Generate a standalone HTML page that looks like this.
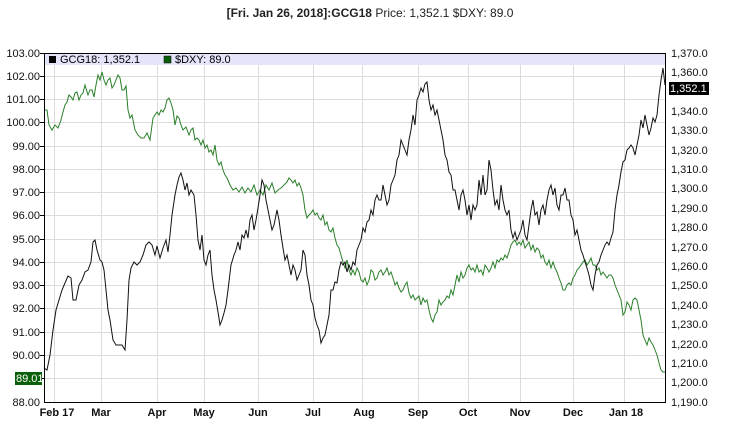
<!DOCTYPE html><html><head><style>body{margin:0;background:#fff}svg{display:block;font-family:"Liberation Sans",sans-serif}</style></head><body>
<svg width="739" height="430" xmlns="http://www.w3.org/2000/svg">
<text x="370" y="17" text-anchor="middle" font-size="12" font-weight="bold" fill="#222">[Fri. Jan 26, 2018]:GCG18 <tspan font-weight="normal">Price: 1,352.1 $DXY: 89.0</tspan></text>
<g stroke="#dcdcdc" stroke-width="1">
<line x1="44" x2="665" y1="76.5" y2="76.5"/><line x1="44" x2="665" y1="99.5" y2="99.5"/><line x1="44" x2="665" y1="122.5" y2="122.5"/><line x1="44" x2="665" y1="146.5" y2="146.5"/><line x1="44" x2="665" y1="169.5" y2="169.5"/><line x1="44" x2="665" y1="192.5" y2="192.5"/><line x1="44" x2="665" y1="215.5" y2="215.5"/><line x1="44" x2="665" y1="239.5" y2="239.5"/><line x1="44" x2="665" y1="262.5" y2="262.5"/><line x1="44" x2="665" y1="285.5" y2="285.5"/><line x1="44" x2="665" y1="308.5" y2="308.5"/><line x1="44" x2="665" y1="332.5" y2="332.5"/><line x1="44" x2="665" y1="355.5" y2="355.5"/><line x1="44" x2="665" y1="378.5" y2="378.5"/>
<line y1="53" y2="402" x1="54.5" x2="54.5"/><line y1="53" y2="402" x1="101.5" x2="101.5"/><line y1="53" y2="402" x1="157.5" x2="157.5"/><line y1="53" y2="402" x1="204.5" x2="204.5"/><line y1="53" y2="402" x1="258.5" x2="258.5"/><line y1="53" y2="402" x1="313.5" x2="313.5"/><line y1="53" y2="402" x1="362.5" x2="362.5"/><line y1="53" y2="402" x1="418.5" x2="418.5"/><line y1="53" y2="402" x1="468.5" x2="468.5"/><line y1="53" y2="402" x1="520.5" x2="520.5"/><line y1="53" y2="402" x1="573.5" x2="573.5"/><line y1="53" y2="402" x1="624.5" x2="624.5"/>
</g>
<rect x="44" y="53" width="621" height="12" fill="#e4e4fa"/>
<rect x="49" y="56" width="7" height="7" fill="#000"/><text x="60" y="63" font-size="11">GCG18: 1,352.1</text>
<rect x="164" y="56" width="7" height="7" fill="#0a5f0a" stroke="#000" stroke-width="0.5"/><text x="175" y="63" font-size="11">$DXY: 89.0</text>
<polyline fill="none" stroke="#2a7f2a" stroke-width="1" points="44,110 47,110 49,125 52,130 55,125 58,128 61,120 63,112 65,105 67,102 69,95 71,97 73,100 75,93 77,92 79,100 81,95 83,93 85,85 88,95 90,90 92,90 94,97 96,85 98,75 100,80 102,72 104,80 106,85 108,80 110,78 112,88 114,85 116,80 118,75 120,78 122,90 124,90 126,86 128,110 130,118 132,115 135,130 138,135 141,138 144,138 147,133 150,140 153,118 155,115 157,112 159,115 161,110 163,112 165,108 167,100 169,98 171,103 173,110 175,125 177,116 179,118 181,125 183,130 186,127 189,135 191,130 193,128 195,140 197,138 199,140 201,145 203,140 205,148 207,145 209,152 211,150 213,155 215,145 217,160 219,165 221,162 223,170 225,175 227,178 230,185 233,190 236,188 239,192 242,187 245,193 248,188 251,192 254,185 257,195 260,190 263,195 266,185 269,190 272,183 275,193 278,190 281,188 284,185 287,182 289,178 291,180 293,183 295,180 297,186 299,183 301,188 303,195 305,210 307,218 309,215 311,213 313,210 315,215 317,213 319,218 321,220 323,215 325,225 327,222 329,230 331,232 333,228 335,238 337,245 339,248 341,255 343,262 345,268 347,260 349,270 351,275 353,270 355,275 357,268 359,272 361,280 363,282 365,278 367,285 369,280 371,270 373,272 375,280 377,278 379,272 381,270 383,275 385,272 387,268 389,275 391,272 393,278 395,285 397,282 399,288 401,292 403,290 405,285 407,282 409,293 411,298 413,295 415,300 417,298 419,296 421,305 423,298 425,302 427,300 429,310 431,318 433,322 435,315 437,312 439,300 441,305 443,302 445,300 447,296 449,298 451,290 453,295 455,285 457,275 459,282 461,272 463,278 465,275 467,268 469,265 471,270 473,268 475,272 477,265 479,272 481,270 483,275 485,265 487,268 489,272 491,268 493,262 495,268 497,260 499,262 501,258 503,260 505,255 507,258 509,252 511,245 513,242 515,240 517,245 519,242 521,245 523,240 525,248 527,245 529,242 531,250 533,245 535,252 537,248 539,250 541,258 543,255 545,262 547,265 549,260 551,268 553,262 555,268 557,272 559,278 561,283 563,290 565,290 567,285 569,283 571,285 573,278 575,275 577,270 579,268 581,265 583,262 585,260 587,265 589,262 591,258 593,265 595,265 597,270 599,268 601,275 603,272 605,275 607,278 609,275 611,275 613,278 615,285 617,290 619,295 621,300 623,315 625,312 627,302 629,305 631,310 633,300 635,298 637,300 639,310 641,320 643,335 645,340 647,345 649,338 651,342 653,345 655,350 657,355 659,363 661,370 663,372 665,372"/>
<polyline fill="none" stroke="#111" stroke-width="1" points="44,368 47,370 50,355 53,330 56,310 59,300 62,290 65,283 68,276 71,278 73,300 76,300 79,285 82,280 85,272 88,270 91,262 93,242 95,240 97,250 100,260 102,262 104,270 106,290 108,310 110,320 113,340 116,345 119,345 122,345 125,350 127,320 129,280 131,268 134,262 137,265 140,262 143,255 146,245 149,242 152,245 155,255 157,246 160,258 163,248 166,240 168,252 170,235 172,215 175,195 177,185 179,177 181,173 183,180 185,190 187,183 189,195 191,190 194,195 196,215 198,240 200,250 202,235 204,260 206,265 208,255 210,250 212,275 214,290 216,300 218,312 220,325 222,320 224,313 226,305 228,290 231,265 234,255 236,250 238,242 240,250 242,235 244,238 246,230 248,238 250,220 252,215 254,230 256,220 258,208 260,195 262,180 264,185 266,200 268,210 270,220 272,230 274,225 277,210 279,220 281,235 283,248 285,260 287,255 289,265 291,275 293,265 295,270 297,280 299,275 301,270 303,250 305,255 307,275 309,285 311,300 313,305 315,318 317,325 319,330 321,343 323,338 325,335 327,325 329,315 331,290 333,290 335,282 337,283 339,270 341,262 343,265 345,262 347,272 349,265 351,270 353,262 355,265 357,250 359,245 361,240 363,228 365,232 367,222 369,220 371,210 373,215 375,200 377,195 379,200 381,200 383,185 385,195 387,205 389,200 391,185 393,180 395,175 397,160 399,155 401,140 403,145 405,150 407,155 409,140 411,130 413,115 415,125 417,100 419,95 421,88 423,92 425,84 427,82 429,100 431,110 433,105 435,115 437,110 439,120 441,130 443,140 445,155 447,160 449,172 451,175 453,190 455,190 457,200 459,210 461,195 463,190 465,200 467,215 469,205 471,220 473,205 475,210 477,205 479,180 481,195 483,175 485,195 487,190 489,160 491,170 493,190 495,205 497,200 499,210 501,185 503,200 505,210 507,215 509,210 511,230 513,238 515,232 517,240 519,235 521,230 523,220 525,235 527,240 529,225 531,210 533,200 535,215 537,212 539,225 541,210 543,205 545,215 547,200 549,190 551,185 553,195 555,188 557,205 559,210 561,195 563,195 565,188 567,200 569,200 571,215 573,220 575,235 577,230 579,240 581,250 583,255 585,262 587,268 589,275 591,285 593,290 595,275 597,265 599,262 601,255 603,250 605,245 607,242 609,245 611,238 613,232 615,210 617,195 619,185 621,172 623,162 625,160 627,150 629,148 631,145 633,148 635,155 637,145 639,135 641,120 643,128 645,115 647,125 649,135 651,128 653,118 655,122 657,115 659,95 661,80 663,68 665,85"/>
<rect x="44.5" y="53.5" width="621" height="349" fill="none" stroke="#000" stroke-width="1"/>
<g stroke="#000"><line x1="40" x2="44" y1="53.5" y2="53.5"/><line x1="40" x2="44" y1="76.5" y2="76.5"/><line x1="40" x2="44" y1="99.5" y2="99.5"/><line x1="40" x2="44" y1="122.5" y2="122.5"/><line x1="40" x2="44" y1="146.5" y2="146.5"/><line x1="40" x2="44" y1="169.5" y2="169.5"/><line x1="40" x2="44" y1="192.5" y2="192.5"/><line x1="40" x2="44" y1="215.5" y2="215.5"/><line x1="40" x2="44" y1="239.5" y2="239.5"/><line x1="40" x2="44" y1="262.5" y2="262.5"/><line x1="40" x2="44" y1="285.5" y2="285.5"/><line x1="40" x2="44" y1="308.5" y2="308.5"/><line x1="40" x2="44" y1="332.5" y2="332.5"/><line x1="40" x2="44" y1="355.5" y2="355.5"/><line x1="40" x2="44" y1="378.5" y2="378.5"/></g>
<g font-size="11" text-anchor="end" fill="#111">
<text x="40" y="57">103.00</text><text x="40" y="80">102.00</text><text x="40" y="103">101.00</text><text x="40" y="126">100.00</text><text x="40" y="150">99.00</text><text x="40" y="173">98.00</text><text x="40" y="196">97.00</text><text x="40" y="219">96.00</text><text x="40" y="243">95.00</text><text x="40" y="266">94.00</text><text x="40" y="289">93.00</text><text x="40" y="312">92.00</text><text x="40" y="336">91.00</text><text x="40" y="359">90.00</text><text x="40" y="406">88.00</text>
</g>
<rect x="15" y="372" width="27" height="13" fill="#0a5f0a"/><text x="16" y="382" font-size="11" fill="#fff">89.01</text>
<g font-size="11" fill="#111">
<text x="671" y="57">1,370.0</text><text x="671" y="76">1,360.0</text><text x="671" y="134">1,330.0</text><text x="671" y="115">1,340.0</text><text x="671" y="154">1,320.0</text><text x="671" y="173">1,310.0</text><text x="671" y="192">1,300.0</text><text x="671" y="212">1,290.0</text><text x="671" y="231">1,280.0</text><text x="671" y="251">1,270.0</text><text x="671" y="270">1,260.0</text><text x="671" y="289">1,250.0</text><text x="671" y="309">1,240.0</text><text x="671" y="328">1,230.0</text><text x="671" y="348">1,220.0</text><text x="671" y="367">1,210.0</text><text x="671" y="386">1,200.0</text><text x="671" y="406">1,190.0</text>
</g>
<rect x="669" y="82" width="40" height="13" fill="#000"/><text x="670" y="92" font-size="11" fill="#fff">1,352.1</text>
<g font-size="11" font-weight="bold" fill="#111" text-anchor="middle">
<text x="57" y="416">Feb 17</text><text x="101" y="416">Mar</text><text x="157" y="416">Apr</text><text x="204" y="416">May</text><text x="258" y="416">Jun</text><text x="313" y="416">Jul</text><text x="364" y="416">Aug</text><text x="418" y="416">Sep</text><text x="468" y="416">Oct</text><text x="520" y="416">Nov</text><text x="573" y="416">Dec</text><text x="626" y="416">Jan 18</text>
</g>
</svg></body></html>
